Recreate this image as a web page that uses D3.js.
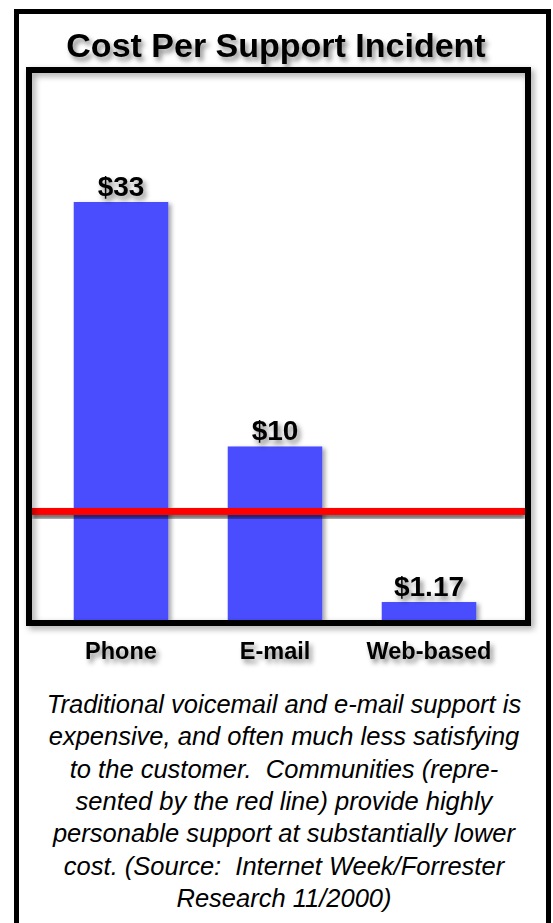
<!DOCTYPE html>
<html>
<head>
<meta charset="utf-8">
<script src="https://cdn.jsdelivr.net/npm/d3@7"></script>
<style>
  html, body { margin: 0; padding: 0; background: #fff; }
  svg { display: block; }
  text { font-family: "Liberation Sans", Arial, Helvetica, sans-serif; }
</style>
</head>
<body>
<div id="chart"></div>
<script>
(function() {

  // data
  let title = "Cost Per Support Incident";
  let categories = ["Phone", "E-mail", "Web-based"];
  let costLabels = ["$33", "$10", "$1.17"];
  let costs = [33, 10, 1.17];
  // the original art is not drawn to scale, so bar heights are kept as drawn (in $ of the phone bar)
  let drawnHeights = [33, 13.7, 1.42];
  let communityLevel = 8.57;   // red line, as drawn
  let caption = [
    "Traditional voicemail and e-mail support is",
    "expensive, and often much less satisfying",
    "to the customer.  Communities (repre-",
    "sented by the red line) provide highly",
    "personable support at substantially lower",
    "cost. (Source:  Internet Week/Forrester",
    "Research 11/2000)"
  ];

  let width = 553;
  let height = 923;
  let plot = {left: 32, right: 525, top: 73, bottom: 620};

  let svg = d3.select("#chart").append("svg")
    .attr("width", width)
    .attr("height", height);

  //soft drop shadow used all over the original
  let defs = svg.append("defs");
  function shadow(id, dx, dy, blur, op) {
    defs.append("filter")
      .attr("id", id)
      .attr("x", "-20%").attr("y", "-50%")
      .attr("width", "140%").attr("height", "200%")
      .append("feDropShadow")
      .attr("dx", dx).attr("dy", dy)
      .attr("stdDeviation", blur)
      .attr("flood-color", "#000")
      .attr("flood-opacity", op);
  }
  shadow("textShadow", 3, 4, 2.5, 0.45);
  shadow("barShadow", 3, 2, 2, 0.35);
  shadow("lineShadow", 0, 4, 2, 0.6);
  shadow("frameShadow", 3, 3, 3, 0.35);

  // outer frame, runs off the bottom
  svg.append("rect")
    .attr("x", 16.5).attr("y", 11.5)
    .attr("width", 532).attr("height", 1000)
    .attr("fill", "none")
    .attr("stroke", "#000")
    .attr("stroke-width", 5);

  svg.append("text")
    .attr("x", 276)
    .attr("y", 57)
    .attr("text-anchor", "middle")
    .attr("font-size", "34px")
    .attr("font-weight", "bold")
    .attr("filter", "url(#textShadow)")
    .text(title);

  let xScale = d3.scaleBand()
    .domain(categories)
    .range([44, 506])
    .paddingInner(0.386)
    .paddingOuter(0.193);

  let yScale = d3.scaleLinear()
    .domain([0, 33])
    .range([plot.bottom, 202]);

  let bars = categories.map(function(c, i) {
    return {cat: c, cost: costs[i], label: costLabels[i], h: drawnHeights[i]};
  });

  svg.selectAll(".bar")
    .data(bars)
    .enter().append("rect")
    .attr("class", "bar")
    .attr("x", function(d) { return xScale(d.cat); })
    .attr("y", function(d) { return yScale(d.h); })
    .attr("width", xScale.bandwidth())
    .attr("height", function(d) { return yScale(0) - yScale(d.h); })
    .attr("fill", "#4a4dfd")
    .attr("filter", "url(#barShadow)");

  svg.selectAll(".valueLabel")
    .data(bars)
    .enter().append("text")
    .attr("class", "valueLabel")
    .attr("x", function(d) { return xScale(d.cat) + xScale.bandwidth() / 2; })
    .attr("y", function(d) { return yScale(d.h) - 6; })
    .attr("text-anchor", "middle")
    .attr("font-size", "28px")
    .attr("font-weight", "bold")
    .attr("filter", "url(#textShadow)")
    .text(function(d) { return d.label; });

  // community cost line (a thin rect so the shadow filter has an area to work on)
  let lineY = yScale(communityLevel);
  svg.append("rect")
    .attr("x", plot.left)
    .attr("y", lineY - 3.5)
    .attr("width", plot.right - plot.left)
    .attr("height", 7)
    .attr("fill", "#ff0000")
    .attr("filter", "url(#lineShadow)");

  // inner frame
  svg.append("rect")
    .attr("x", 29).attr("y", 70)
    .attr("width", 499).attr("height", 553)
    .attr("fill", "none")
    .attr("stroke", "#000")
    .attr("stroke-width", 6)
    .attr("filter", "url(#frameShadow)");

  svg.selectAll(".catLabel")
    .data(categories)
    .enter().append("text")
    .attr("class", "catLabel")
    .attr("x", function(d) { return xScale(d) + xScale.bandwidth() / 2; })
    .attr("y", 659)
    .attr("text-anchor", "middle")
    .attr("font-size", "23.5px")
    .attr("font-weight", "bold")
    .attr("filter", "url(#textShadow)")
    .text(function(d) { return d; });

  svg.selectAll(".caption")
    .data(caption)
    .enter().append("text")
    .attr("class", "caption")
    .attr("x", 284)
    .attr("y", function(d, i) { return 713 + i * 32.3; })
    .attr("text-anchor", "middle")
    .attr("font-size", "25.5px")
    .attr("font-style", "italic")
    .style("white-space", "pre")
    .text(function(d) { return d; });

})();
</script>
</body>
</html>
